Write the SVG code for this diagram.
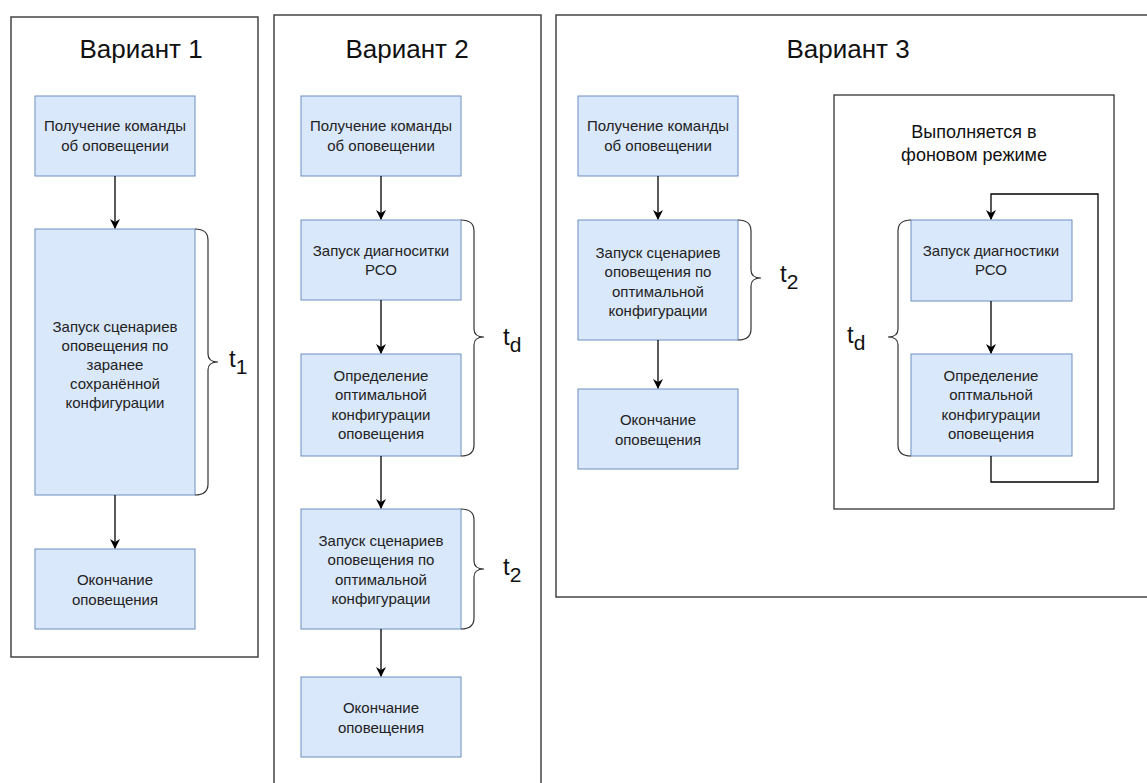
<svg xmlns="http://www.w3.org/2000/svg" width="1147" height="783" viewBox="0 0 1147 783">
  <defs>
    <marker id="arrow" viewBox="0 0 10 10" refX="9" refY="5" markerWidth="10" markerHeight="10" markerUnits="userSpaceOnUse" orient="auto">
      <path d="M0,0 L10,5 L0,10 L3,5 Z" fill="#000"/>
    </marker>
    <style>
      .frame { fill: #fff; stroke: #444; stroke-width: 1.5; }
      .inner { fill: #fff; stroke: #222; stroke-width: 1.2; }
      .node { fill: #dae8fc; stroke: #6c8ebf; stroke-width: 1; }
      .label { font-family: "Liberation Sans", Arial, sans-serif; font-size: 15px; fill: #222; text-anchor: middle; }
      .title { font-family: "Liberation Sans", Arial, sans-serif; font-size: 26px; fill: #111; text-anchor: middle; }
      .note { font-family: "Liberation Sans", Arial, sans-serif; font-size: 18px; fill: #111; text-anchor: middle; }
      .time { font-family: "Liberation Sans", Arial, sans-serif; font-size: 24px; fill: #111; }
      .edge { fill: none; stroke: #000; stroke-width: 1.3; }
      .brace { fill: none; stroke: #333; stroke-width: 1.2; }
    </style>
  </defs>
  <rect width="1147" height="783" fill="#fff"/>

  <!-- frames -->
  <g id="frames">
    <rect class="frame" x="11" y="17" width="247" height="640"/>
    <rect class="frame" x="274" y="15" width="267" height="780"/>
    <rect class="frame" x="556" y="15" width="600" height="582"/>
    <text class="title" x="141" y="58">Вариант 1</text>
    <text class="title" x="407" y="58">Вариант 2</text>
    <text class="title" x="848" y="58">Вариант 3</text>
  </g>

  <!-- Variant 1 -->
  <g id="v1-receive">
    <rect class="node" x="35" y="96" width="160" height="80"/>
    <text class="label" x="115" y="131">Получение команды</text>
    <text class="label" x="115" y="151">об оповещении</text>
  </g>
  <g id="v1-run">
    <rect class="node" x="35" y="229" width="160" height="266"/>
    <text class="label" x="115" y="332">Запуск сценариев</text>
    <text class="label" x="115" y="351">оповещения по</text>
    <text class="label" x="115" y="370">заранее</text>
    <text class="label" x="115" y="389">сохранённой</text>
    <text class="label" x="115" y="408">конфигурации</text>
  </g>
  <g id="v1-end">
    <rect class="node" x="35" y="549" width="160" height="80"/>
    <text class="label" x="115" y="585">Окончание</text>
    <text class="label" x="115" y="605">оповещения</text>
  </g>
  <g id="v1-t1">
    <path class="brace" d="M195,229 Q208,229 208,240 L208,354 Q208,362 218,362 Q208,362 208,370 L208,484 Q208,495 195,495"/>
    <text class="time" x="229" y="367">t<tspan font-size="21" dy="7">1</tspan></text>
  </g>

  <!-- Variant 2 -->
  <g id="v2-receive">
    <rect class="node" x="301" y="96" width="160" height="80"/>
    <text class="label" x="381" y="131">Получение команды</text>
    <text class="label" x="381" y="151">об оповещении</text>
  </g>
  <g id="v2-diag">
    <rect class="node" x="301" y="220" width="160" height="80"/>
    <text class="label" x="381" y="256">Запуск диагноситки</text>
    <text class="label" x="381" y="275">РСО</text>
  </g>
  <g id="v2-optimal">
    <rect class="node" x="301" y="354" width="160" height="102"/>
    <text class="label" x="381" y="381">Определение</text>
    <text class="label" x="381" y="400">оптимальной</text>
    <text class="label" x="381" y="420">конфигурации</text>
    <text class="label" x="381" y="439">оповещения</text>
  </g>
  <g id="v2-run">
    <rect class="node" x="301" y="509" width="160" height="120"/>
    <text class="label" x="381" y="546">Запуск сценариев</text>
    <text class="label" x="381" y="565">оповещения по</text>
    <text class="label" x="381" y="585">оптимальной</text>
    <text class="label" x="381" y="604">конфигурации</text>
  </g>
  <g id="v2-end">
    <rect class="node" x="301" y="677" width="160" height="80"/>
    <text class="label" x="381" y="713">Окончание</text>
    <text class="label" x="381" y="733">оповещения</text>
  </g>
  <g id="v2-td">
    <path class="brace" d="M461,220 Q474,220 474,231 L474,329 Q474,337 484,337 Q474,337 474,345 L474,445 Q474,456 461,456"/>
    <text class="time" x="503" y="345">t<tspan font-size="21" dy="7">d</tspan></text>
  </g>
  <g id="v2-t2">
    <path class="brace" d="M461,509 Q474,509 474,520 L474,561 Q474,569 484,569 Q474,569 474,577 L474,618 Q474,629 461,629"/>
    <text class="time" x="503" y="575">t<tspan font-size="21" dy="7">2</tspan></text>
  </g>

  <!-- Variant 3 -->
  <g id="v3-receive">
    <rect class="node" x="578" y="96" width="160" height="80"/>
    <text class="label" x="658" y="131">Получение команды</text>
    <text class="label" x="658" y="151">об оповещении</text>
  </g>
  <g id="v3-run">
    <rect class="node" x="578" y="220" width="160" height="120"/>
    <text class="label" x="658" y="258">Запуск сценариев</text>
    <text class="label" x="658" y="277">оповещения по</text>
    <text class="label" x="658" y="297">оптимальной</text>
    <text class="label" x="658" y="316">конфигурации</text>
  </g>
  <g id="v3-end">
    <rect class="node" x="578" y="389" width="160" height="80"/>
    <text class="label" x="658" y="425">Окончание</text>
    <text class="label" x="658" y="445">оповещения</text>
  </g>
  <g id="v3-t2">
    <path class="brace" d="M738,220 Q751,220 751,231 L751,270 Q751,278 761,278 Q751,278 751,286 L751,329 Q751,340 738,340"/>
    <text class="time" x="780" y="282">t<tspan font-size="21" dy="7">2</tspan></text>
  </g>

  <g id="v3-background">
    <rect class="inner" x="834" y="95" width="280" height="414"/>
    <text class="note" x="974" y="138">Выполняется в</text>
    <text class="note" x="974" y="161">фоновом режиме</text>
  </g>
  <g id="v3-diag">
    <rect class="node" x="911" y="220" width="161" height="81"/>
    <text class="label" x="991" y="256">Запуск диагностики</text>
    <text class="label" x="991" y="275">РСО</text>
  </g>
  <g id="v3-optimal">
    <rect class="node" x="911" y="354" width="161" height="102"/>
    <text class="label" x="991" y="381">Определение</text>
    <text class="label" x="991" y="400">оптмальной</text>
    <text class="label" x="991" y="420">конфигурации</text>
    <text class="label" x="991" y="439">оповещения</text>
  </g>
  <g id="v3-td">
    <path class="brace" d="M911,220 Q898,220 898,231 L898,329 Q898,337 888,337 Q898,337 898,345 L898,445 Q898,456 911,456"/>
    <text class="time" x="847" y="343">t<tspan font-size="21" dy="7">d</tspan></text>
  </g>

  <!-- connectors -->
  <g id="connectors">
    <path class="edge" marker-end="url(#arrow)" d="M115,176 L115,228"/>
    <path class="edge" marker-end="url(#arrow)" d="M115,495 L115,548"/>
    <path class="edge" marker-end="url(#arrow)" d="M381,176 L381,219"/>
    <path class="edge" marker-end="url(#arrow)" d="M381,300 L381,353"/>
    <path class="edge" marker-end="url(#arrow)" d="M381,456 L381,508"/>
    <path class="edge" marker-end="url(#arrow)" d="M381,629 L381,676"/>
    <path class="edge" marker-end="url(#arrow)" d="M658,176 L658,219"/>
    <path class="edge" marker-end="url(#arrow)" d="M658,340 L658,388"/>
    <path class="edge" marker-end="url(#arrow)" d="M991,301 L991,353"/>
    <path class="edge" marker-end="url(#arrow)" d="M991,456 L991,482 L1098,482 L1098,194 L991,194 L991,219"/>
  </g>
</svg>
